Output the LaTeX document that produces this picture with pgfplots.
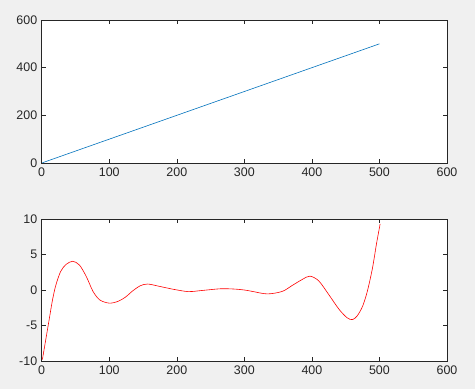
\documentclass[border=0pt]{standalone}
\usepackage{fontspec}
\setmainfont{Liberation Sans}
\usepackage{pgfplots}
\pgfplotsset{compat=1.18}
\definecolor{figbg}{HTML}{F0F0F0}
\definecolor{axgray}{HTML}{262626}
\definecolor{mblue}{HTML}{0072BD}
\pgfplotsset{
  mstyle/.style={
    scale only axis,
    width=405.3bp, height=143bp,
    anchor=south west,
    xmin=0, xmax=600,
    xtick={0,100,...,600},
    axis background/.style={fill=white},
    axis line style={axgray, line width=0.5pt},
    tick style={axgray, line width=0.5pt},
    tick align=inside,
    major tick length=4bp,
    xtick pos=both, ytick pos=both,
    xticklabel pos=lower, yticklabel pos=left,
    ticklabel style={font=\fontsize{12.5}{14}\selectfont, text=axgray},
    /pgf/number format/assume math mode=true,
    /pgf/number format/1000 sep={},
    xticklabel style={yshift=-1bp},
    yticklabel style={xshift=-1bp},
  }
}
\begin{document}
\begin{tikzpicture}[x=1bp,y=1bp]
\fill[figbg] (0,0) rectangle (475,389);
\useasboundingbox (0,0) rectangle (475,389);
\begin{axis}[mstyle, at={(41.7bp,226bp)}, ymin=0, ymax=600, ytick={0,200,400,600}]
\addplot[mblue, line width=0.6pt] coordinates {(1,1) (500,500)};
\end{axis}
\begin{axis}[mstyle, at={(41.7bp,28bp)}, height=142bp, ymin=-10, ymax=10, ytick={-10,-5,0,5,10}]
\addplot[red, line width=0.6pt, smooth] coordinates {
(1,-9.8) (6,-7.0) (11,-4.2) (16,-1.4) (21,0.7) (28,2.6) (36,3.6) (46,4.05) (56,3.5) (66,1.9) (76,-0.2) (86,-1.4) (100,-1.85) (113,-1.6) (124,-1.0) (135,-0.1) (146,0.6) (157,0.84) (175,0.5) (195,0.1) (217,-0.23) (234,-0.1) (264,0.17) (284,0.14) (300,0.0) (312,-0.2) (334,-0.55) (356,-0.2) (371,0.65) (386,1.5) (397,1.95) (410,1.3) (425,-0.65) (440,-2.7) (452,-3.9) (460,-4.17) (467,-3.65) (475,-2.3) (482,-0.2) (489.6,3.05) (495.6,6.5) (501,9.3)
};
\end{axis}
\end{tikzpicture}
\end{document}
